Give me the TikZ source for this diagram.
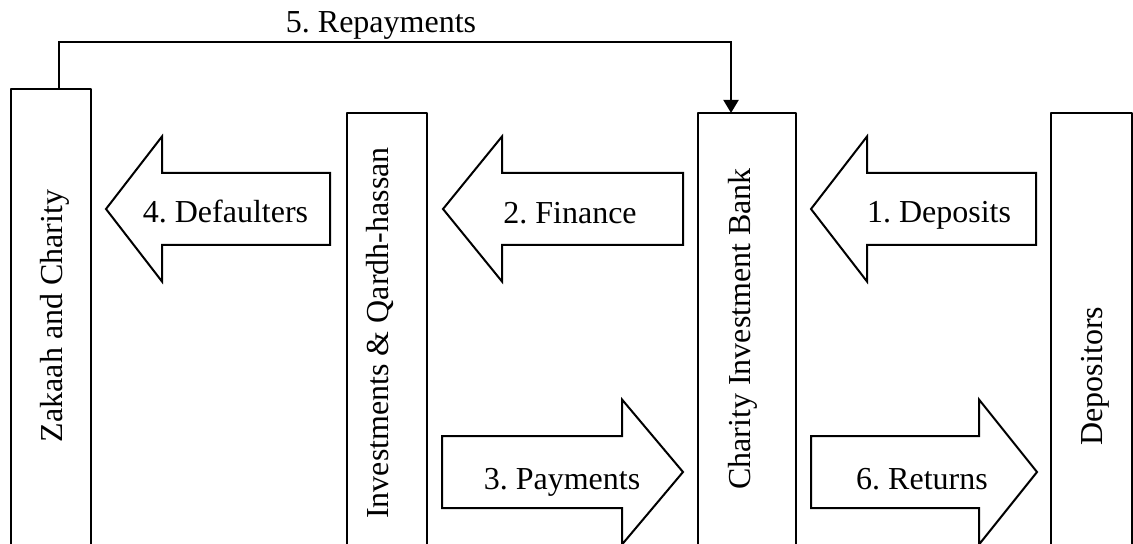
\documentclass[tikz,border=0pt]{standalone}
\usepackage{fontspec}
\setmainfont{Liberation Serif}
\usepackage{tikz}
\usetikzlibrary{arrows.meta}
\frenchspacing

% block arrow: tail x, head x, tip x, centre y
\newcommand{\blockarrow}[4]{%
    \draw [line width=1pt,line join=miter] (#1,#4-36) -- (#2,#4-36) -- (#2,#4-72.5) -- (#3,#4) -- (#2,#4+72.5) -- (#2,#4+36) -- (#1,#4+36) -- cycle;}

\begin{document}
\begin{tikzpicture}[line cap=round,line join=round,x=0.5pt,y=-0.5pt,
        every node/.style={font=\fontsize{16}{19}\selectfont},
        box/.style={draw,line width=1pt,minimum width=40pt,inner sep=0pt,outer sep=0pt},
        boxtext/.style={rotate=90,anchor=base,inner sep=0pt},
        flowtext/.style={anchor=base,inner sep=0pt}]
    \useasboundingbox (0,0) rectangle (1133,544);
    % the four parties
    \node (zak) [box,minimum height=255.5pt] at (51,344.5) {};
    \node (inv) [box,minimum height=243.5pt] at (387,356.5) {};
    \node (cib) [box,minimum width=49pt,minimum height=243.5pt] at (747,356.5) {};
    \node (dep) [box,minimum width=40.5pt,minimum height=243.5pt] at (1091.5,356.5) {};
    \node (zaktext) [boxtext] at (62,316) {Zakaah and Charity};
    \node (invtext) [boxtext] at (388,333) {Investments \& Qardh-hassan};
    \node (cibtext) [boxtext] at (750,329) {Charity Investment Bank};
    \node (deptext) [boxtext] at (1102,376) {Depositors};
    % flows
    \blockarrow{1036}{867}{811}{209}
    \node (deposits) [flowtext] at (939,223) {1. Deposits};
    \blockarrow{683}{502}{443}{209}
    \node (finance) [flowtext] at (570,224) {2. Finance};
    \blockarrow{442}{622}{683}{472}
    \node (payments) [flowtext] at (562,489) {3. Payments};
    \blockarrow{330}{162}{106}{209}
    \node (defaulters) [flowtext] at (225.5,223) {4. Defaulters};
    \blockarrow{811}{979}{1037}{472}
    \node (returns) [flowtext] at (922,489) {6. Returns};
    % repayments
    \draw [line width=1pt,line join=miter,-{Triangle[length=6.5pt,width=7.5pt]}] ([xshift=4pt]zak.north) -- ++(0,-47.3) -| ([xshift=-8pt]cib.north);
    \node (repay) [flowtext] at (381,33) {5. Repayments};
\end{tikzpicture}
\end{document}
